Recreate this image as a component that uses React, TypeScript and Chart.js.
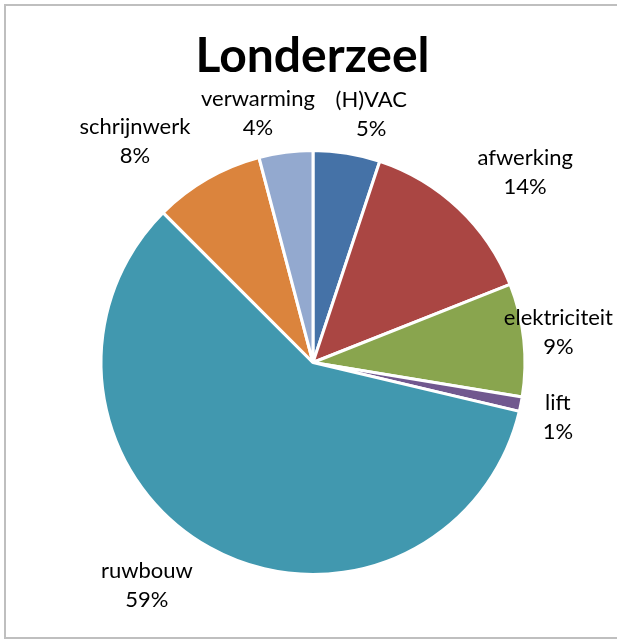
import React, { useEffect, useRef } from "react";
import { Chart, registerables } from "chart.js";

Chart.register(...registerables);

const chartTitle = "Londerzeel";
const categories = ["(H)VAC", "afwerking", "elektriciteit", "lift", "ruwbouw", "schrijnwerk", "verwarming"];
const shares = [5.1, 13.9, 8.6, 1.1, 58.8, 8.4, 4.1];
const sliceColors = ["#4572A7", "#AA4643", "#89A54E", "#71588F", "#4198AF", "#DB843D", "#93A9CF"];

const FONT = "Lato, 'Noto Sans', sans-serif";
const W = 617;
const H = 639;

const clamp = (v: number, lo: number, hi: number) => Math.max(lo, Math.min(hi, v));

const decorPlugin = {
  id: "decor",
  beforeDraw(chart: any) {
    const ctx = chart.ctx as CanvasRenderingContext2D;
    ctx.save();
    ctx.fillStyle = "#ffffff";
    ctx.fillRect(0, 0, W, H);
    ctx.strokeStyle = "#BFBFBF";
    ctx.lineWidth = 2;
    ctx.strokeRect(5, 5, 800, 633);
    ctx.fillStyle = "#000000";
    ctx.font = `bold 48px ${FONT}`;
    ctx.textAlign = "center";
    ctx.textBaseline = "alphabetic";
    ctx.fillText(chartTitle, 312.5, 72);
    ctx.restore();
  },
  afterDatasetsDraw(chart: any) {
    const ctx = chart.ctx as CanvasRenderingContext2D;
    const meta = chart.getDatasetMeta(0);
    const data = chart.data.datasets[0].data as number[];
    const total = data.reduce((a, b) => a + b, 0);
    ctx.save();
    ctx.font = `22px ${FONT}`;
    ctx.fillStyle = "#000000";
    ctx.textAlign = "center";
    ctx.textBaseline = "middle";
    const lh = 29;
    const halfH = lh;
    const gap = 10;
    meta.data.forEach((arc: any, i: number) => {
      const p = arc.getProps(["x", "y", "startAngle", "endAngle", "outerRadius"], true);
      const mid = (p.startAngle + p.endAngle) / 2;
      const dx = Math.cos(mid);
      const dy = Math.sin(mid);
      const l1 = chart.data.labels[i] as string;
      const l2 = Math.round((data[i] / total) * 100) + "%";
      const halfW = Math.max(ctx.measureText(l1).width, ctx.measureText(l2).width) / 2;
      let x = p.x + dx * (p.outerRadius + gap) + clamp(3 * dx, -1, 1) * (halfW + 12);
      const y = p.y + dy * (p.outerRadius + gap) + clamp(2 * dy, -1, 1) * halfH;
      if (x + halfW > 613) x = 613 - halfW;
      if (x - halfW < 8) x = 8 + halfW;
      ctx.fillText(l1, x, y - lh / 2);
      ctx.fillText(l2, x, y + lh / 2);
    });
    ctx.restore();
  },
};

export default function App() {
  const ref = useRef<HTMLCanvasElement | null>(null);
  useEffect(() => {
    if (!ref.current) return;
    const chart = new Chart(ref.current, {
      type: "pie",
      data: {
        labels: categories,
        datasets: [
          {
            data: shares,
            backgroundColor: sliceColors,
            borderColor: "#ffffff",
            borderWidth: 3,
            radius: 212,
          } as any,
        ],
      },
      options: {
        animation: false,
        responsive: false,
        events: [],
        layout: { padding: { left: 60, right: 51, top: 120, bottom: 34 } },
        plugins: {
          legend: { display: false },
          tooltip: { enabled: false },
          title: { display: false },
        },
      },
      plugins: [decorPlugin],
    });
    return () => chart.destroy();
  }, []);
  return (
    <div style={{ position: "fixed", left: 0, top: 0, width: W, height: H, background: "#fff" }}>
      <canvas ref={ref} width={W} height={H} style={{ width: W, height: H, display: "block" }} />
    </div>
  );
}
